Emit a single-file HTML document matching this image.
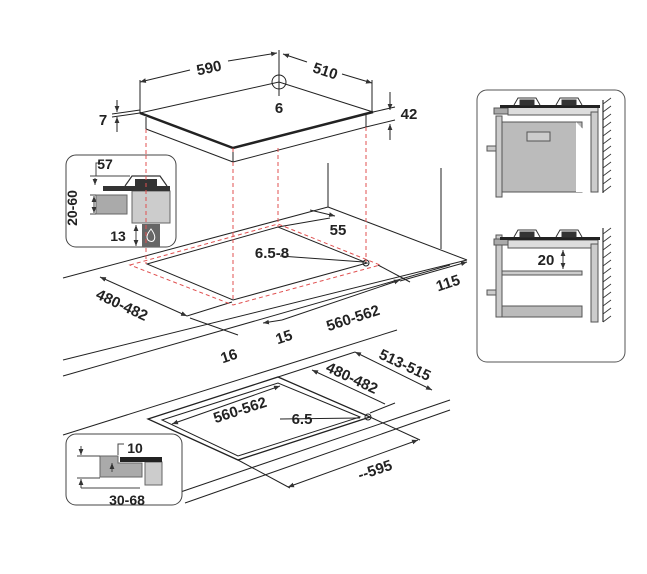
<!DOCTYPE html>
<html><head><meta charset="utf-8"><style>
html,body{margin:0;padding:0;background:#fff;}
svg{display:block}
text{font-family:"Liberation Sans",sans-serif;font-weight:bold;fill:#222;}
</style></head><body>
<svg width="647" height="574" viewBox="0 0 647 574" xmlns="http://www.w3.org/2000/svg">
<defs>
<marker id="a" viewBox="0 0 10 10" refX="10" refY="5" markerWidth="6" markerHeight="6" orient="auto-start-reverse"><path d="M0,1 L10,5 L0,9 z" fill="#333"/></marker>
</defs>
<g stroke="#222" fill="none" stroke-width="1">
<line x1="328" y1="163" x2="328" y2="207"/>
<line x1="441" y1="168" x2="441" y2="249"/>
<line x1="328" y1="207" x2="63" y2="278"/>
<line x1="328" y1="207" x2="467" y2="260"/>
<line x1="467" y1="260" x2="63" y2="360"/>
<line x1="450" y1="265" x2="63" y2="376"/>
<line x1="397" y1="330" x2="63" y2="435"/>
<line x1="450" y1="400" x2="163" y2="498"/>
<line x1="450" y1="410" x2="185" y2="503"/>
<polygon points="147,264 278,227 367,263 233,300"/>
<polygon points="148,419 278,377 370,417 238,460" stroke-width="1.3"/>
<polygon points="162,420 278,383 360,417 238,456"/>
<polygon points="140,113 279,82 373,112 233,148" fill="#fff"/>
<polyline points="140,113 233,148 373,112" stroke-width="2.5"/>
<line x1="146" y1="117" x2="146" y2="129"/>
<line x1="146" y1="129" x2="233" y2="162"/>
<line x1="233" y1="148" x2="233" y2="162"/>
<line x1="233" y1="162" x2="366" y2="127"/>
<line x1="366" y1="115" x2="366" y2="127"/>
<circle cx="279" cy="82" r="7"/>
<line x1="279" y1="50" x2="279" y2="96"/>
<line x1="140" y1="80" x2="140" y2="113"/>
<line x1="372" y1="80" x2="372" y2="112"/>
<line x1="140" y1="82" x2="190" y2="70" marker-start="url(#a)"/>
<line x1="228" y1="61" x2="277" y2="53" marker-end="url(#a)"/>
<line x1="283" y1="54" x2="307" y2="62" marker-start="url(#a)"/>
<line x1="342" y1="74" x2="372" y2="83" marker-end="url(#a)"/>
<line x1="117" y1="100" x2="117" y2="112" marker-end="url(#a)"/>
<line x1="117" y1="117" x2="117" y2="132" marker-start="url(#a)"/>
<line x1="112" y1="114" x2="140" y2="110"/>
<line x1="112" y1="117" x2="140" y2="113"/>
<line x1="390" y1="92" x2="390" y2="110" marker-end="url(#a)"/>
<line x1="390" y1="124" x2="390" y2="140" marker-start="url(#a)"/>
<line x1="373" y1="112" x2="395" y2="107"/>
<line x1="366" y1="127" x2="395" y2="120"/>
<line x1="310" y1="210" x2="335" y2="216" marker-end="url(#a)"/>
<line x1="278" y1="227" x2="330" y2="218"/>
<line x1="280" y1="256" x2="364" y2="262"/>
<circle cx="366" cy="263" r="3"/>
<line x1="100" y1="277" x2="187" y2="316" marker-start="url(#a)" marker-end="url(#a)"/>
<line x1="187" y1="316" x2="232" y2="302"/>
<line x1="190" y1="318" x2="238" y2="335"/>
<line x1="263" y1="323" x2="282" y2="320" marker-start="url(#a)"/>
<line x1="282" y1="320" x2="400" y2="280" marker-end="url(#a)"/>
<line x1="378" y1="265" x2="410" y2="282"/>
<line x1="400" y1="281" x2="467" y2="262" marker-end="url(#a)"/>
<line x1="355" y1="352" x2="432" y2="390" marker-start="url(#a)" marker-end="url(#a)"/>
<line x1="278" y1="377" x2="355" y2="352"/>
<line x1="312" y1="370" x2="385" y2="404" marker-start="url(#a)"/>
<line x1="370" y1="413" x2="395" y2="403"/>
<line x1="280" y1="419" x2="360" y2="418"/>
<circle cx="368" cy="417" r="3"/>
<line x1="172" y1="424" x2="280" y2="386" marker-start="url(#a)" marker-end="url(#a)"/>
<line x1="370" y1="417" x2="420" y2="440"/>
<line x1="238" y1="460" x2="290" y2="488"/>
<line x1="288" y1="487" x2="418" y2="440" marker-start="url(#a)" marker-end="url(#a)"/>
</g>
<g stroke="#e05050" fill="none" stroke-width="1" stroke-dasharray="4,3">
<line x1="146" y1="129" x2="146" y2="264"/>
<line x1="233" y1="162" x2="233" y2="300"/>
<line x1="278" y1="148" x2="278" y2="227"/>
<line x1="366" y1="127" x2="366" y2="262"/>
<polygon points="130,265 278,224 380,265 233,305"/>
</g>
<text x="209" y="73" font-size="15" text-anchor="middle" transform="rotate(-12 209 68)">590</text>
<text x="325" y="76" font-size="15" text-anchor="middle" transform="rotate(18 325 72)">510</text>
<text x="279" y="113" font-size="15" text-anchor="middle">6</text>
<text x="103" y="125" font-size="15" text-anchor="middle">7</text>
<text x="409" y="119" font-size="15" text-anchor="middle">42</text>
<text x="338" y="235" font-size="15" text-anchor="middle">55</text>
<text x="272" y="258" font-size="15" text-anchor="middle">6.5-8</text>
<text x="448" y="288" font-size="15" text-anchor="middle" transform="rotate(-18 448 283)">115</text>
<text x="122" y="310" font-size="15" text-anchor="middle" transform="rotate(25 122 305)">480-482</text>
<text x="353" y="323" font-size="15" text-anchor="middle" transform="rotate(-18 353 318)">560-562</text>
<text x="284" y="342" font-size="15" text-anchor="middle" transform="rotate(-18 284 337)">15</text>
<text x="229" y="361" font-size="15" text-anchor="middle" transform="rotate(-18 229 356)">16</text>
<text x="405" y="370" font-size="15" text-anchor="middle" transform="rotate(25 405 365)">513-515</text>
<text x="352" y="383" font-size="15" text-anchor="middle" transform="rotate(25 352 378)">480-482</text>
<text x="240" y="415" font-size="15" text-anchor="middle" transform="rotate(-18 240 410)">560-562</text>
<text x="302" y="424" font-size="15" text-anchor="middle">6.5</text>
<text x="375" y="475" font-size="15" text-anchor="middle" transform="rotate(-18 375 470)">--595</text>
<rect x="66" y="155" width="110" height="92" rx="10" fill="#fff" stroke="#444"/>
<line x1="233" y1="148" x2="233" y2="155" stroke="#e05050" stroke-dasharray="4,3"/>
<rect x="96" y="195" width="31" height="19" fill="#aaa" stroke="#666"/>
<rect x="132" y="191" width="38" height="32" fill="#ccc" stroke="#666"/>
<rect x="142" y="224" width="18" height="23" fill="#666"/>
<path d="M151,229 c-4,5 -5,8 -3,11 c2,2 5,2 6,0 c2,-3 0,-7 -3,-11z" fill="none" stroke="#fff" stroke-width="1"/>
<rect x="103" y="186" width="67" height="5" fill="#333"/>
<path d="M125,186 L132,176 L160,176 L167,186" fill="none" stroke="#333" stroke-width="1.2"/>
<rect x="135" y="179" width="22" height="7" fill="#333"/>
<line x1="146" y1="155" x2="146" y2="246" stroke="#e05050" stroke-dasharray="4,3"/>
<g stroke="#444" fill="none">
<polyline points="100,163 96,163 96,176"/><line x1="90" y1="176" x2="130" y2="176"/>
<line x1="95" y1="178" x2="95" y2="185" marker-end="url(#a)"/>
<line x1="90" y1="195" x2="96" y2="195"/><line x1="90" y1="214" x2="96" y2="214"/>
<line x1="94" y1="196" x2="94" y2="213" marker-start="url(#a)" marker-end="url(#a)"/>
<line x1="136" y1="225" x2="136" y2="246" marker-start="url(#a)" marker-end="url(#a)"/>
</g>
<text x="105" y="169" font-size="14" text-anchor="middle">57</text>
<text x="72" y="213" font-size="14" text-anchor="middle" transform="rotate(-90 72 208)">20-60</text>
<text x="118" y="241" font-size="14" text-anchor="middle">13</text>
<rect x="66" y="434" width="116" height="71" rx="10" fill="#fff" stroke="#444"/>
<polygon points="100,456 118,456 118,463 142,463 142,477 100,477" fill="#aaa" stroke="#666"/>
<rect x="145" y="462" width="17" height="23" fill="#ccc" stroke="#666"/>
<rect x="120" y="457" width="42" height="5" fill="#222"/>
<g stroke="#444" fill="none">
<line x1="77" y1="456" x2="100" y2="456"/><line x1="81" y1="446" x2="81" y2="455" marker-end="url(#a)"/>
<line x1="77" y1="478" x2="100" y2="478"/><line x1="81" y1="488" x2="81" y2="479" marker-end="url(#a)"/>
<line x1="81" y1="488" x2="140" y2="488"/>
<polyline points="124,444 118,444 118,455"/>
<line x1="112" y1="463" x2="112" y2="472" marker-start="url(#a)"/>
</g>
<text x="135" y="453" font-size="14" text-anchor="middle">10</text>
<text x="127" y="505" font-size="14" text-anchor="middle">30-68</text>
<rect x="477" y="90" width="148" height="272" rx="10" fill="#fff" stroke="#555"/>
<g stroke="#555">
<rect x="502" y="122" width="80" height="70" fill="#bbb"/>
<rect x="527" y="132" width="23" height="9" fill="#ccc"/>
<rect x="496" y="116" width="6" height="81" fill="#ccc"/>
<rect x="487" y="146" width="9" height="5" fill="#ccc"/>
<rect x="508" y="107" width="90" height="8" fill="#ddd"/>
<rect x="494" y="108" width="14" height="6" fill="#aaa"/>
<rect x="591" y="112" width="7" height="80" fill="#ccc"/>
<rect x="496" y="235" width="6" height="82" fill="#ccc"/>
<rect x="502" y="271" width="80" height="4" fill="#ccc"/>
<rect x="502" y="306" width="80" height="11" fill="#bbb"/>
<rect x="487" y="290" width="9" height="5" fill="#ccc"/>
<rect x="508" y="240" width="90" height="8" fill="#ddd"/>
<rect x="494" y="239" width="14" height="6" fill="#aaa"/>
<rect x="591" y="244" width="7" height="78" fill="#ccc"/>
</g>
<polygon points="576,122 584,130 584,192 576,192" fill="#fff"/>
<rect x="500" y="105" width="100" height="3" fill="#222"/>
<rect x="500" y="237" width="100" height="3" fill="#222"/>
<g fill="#333" stroke="#333">
<path d="M514,105 L518,98 L536,98 L540,105" fill="none"/><rect x="520" y="100" width="14" height="5"/>
<path d="M556,105 L560,98 L578,98 L582,105" fill="none"/><rect x="562" y="100" width="14" height="5"/>
<path d="M514,237 L518,230 L536,230 L540,237" fill="none"/><rect x="520" y="232" width="14" height="5"/>
<path d="M556,237 L560,230 L578,230 L582,237" fill="none"/><rect x="562" y="232" width="14" height="5"/>
</g>
<line x1="603" y1="100" x2="603" y2="193" stroke="#333" stroke-width="1.2"/>
<line x1="603" y1="228" x2="603" y2="322" stroke="#333" stroke-width="1.2"/>
<path d="M603,104 l8,-6 M603,112 l8,-6 M603,120 l8,-6 M603,128 l8,-6 M603,136 l8,-6 M603,144 l8,-6 M603,152 l8,-6 M603,160 l8,-6 M603,168 l8,-6 M603,176 l8,-6 M603,184 l8,-6 M603,192 l8,-6 M603,234 l8,-6 M603,242 l8,-6 M603,250 l8,-6 M603,258 l8,-6 M603,266 l8,-6 M603,274 l8,-6 M603,282 l8,-6 M603,290 l8,-6 M603,298 l8,-6 M603,306 l8,-6 M603,314 l8,-6 M603,322 l8,-6" stroke="#333" stroke-width="0.8"/>
<line x1="563" y1="250" x2="563" y2="269" stroke="#333" marker-start="url(#a)" marker-end="url(#a)"/>
<text x="546" y="265" font-size="15" text-anchor="middle">20</text>
</svg>
</body></html>
